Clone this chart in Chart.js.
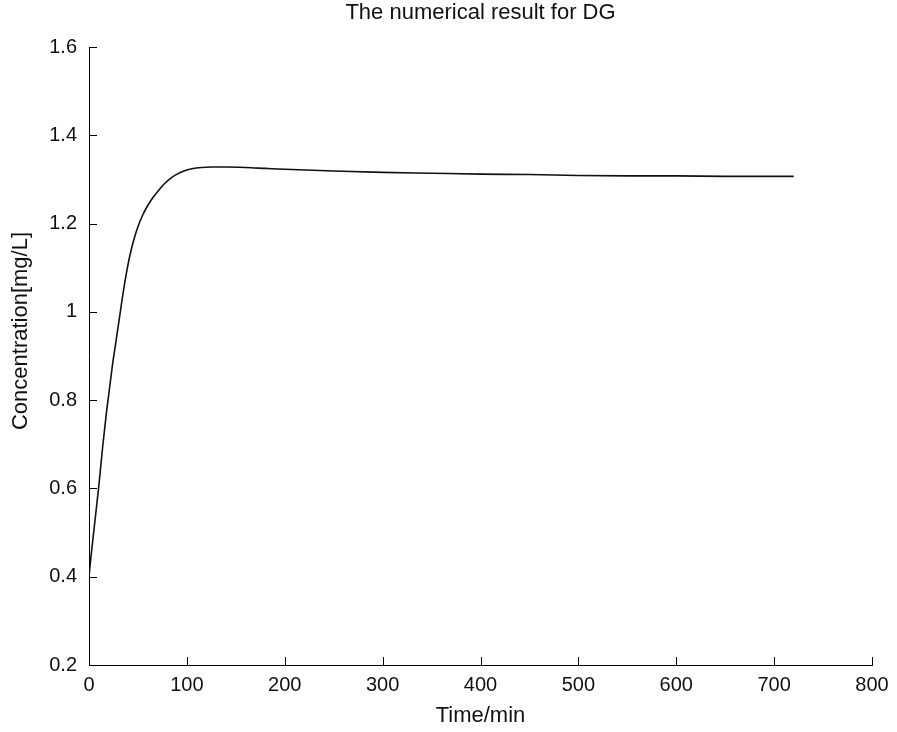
<!DOCTYPE html>
<html>
<head>
<meta charset="utf-8">
<script src="https://cdn.jsdelivr.net/npm/chart.js@4"></script>
<style>
  html, body { margin: 0; padding: 0; background: #fff; }
  #wrap { width: 897px; height: 732px; }
</style>
</head>
<body>
<div id="wrap"><canvas id="dg"></canvas></div>
<script>
// ── DATA ──
const timeMin = [0, 2, 4, 6, 8, 10, 12, 14, 16, 18, 20, 22, 24, 26, 28, 30, 32, 35, 38, 42, 46, 50, 55, 60,
  65, 70, 76, 83, 90, 97, 105, 115, 125, 140, 160, 180, 200, 250, 300, 350, 400, 450, 500, 550, 600, 650, 720];
const concentration = [0.40, 0.445, 0.485, 0.525, 0.565, 0.605, 0.65, 0.695, 0.735, 0.775, 0.81, 0.845, 0.88,
  0.91, 0.94, 0.97, 1.0, 1.045, 1.085, 1.13, 1.165, 1.193, 1.22, 1.241, 1.258, 1.272, 1.288, 1.302, 1.312, 1.319,
  1.324, 1.327, 1.328, 1.328, 1.327, 1.325, 1.323, 1.319, 1.316, 1.314, 1.312, 1.311, 1.309, 1.308, 1.308,
  1.307, 1.307];
const xTicks = [0, 100, 200, 300, 400, 500, 600, 700, 800];
const yTicks = [0.2, 0.4, 0.6, 0.8, 1, 1.2, 1.4, 1.6];

const titleText = 'The numerical result for DG';
const xLabel = 'Time/min';
const yLabel = 'Concentration[mg/L]';

const FONT = '"Liberation Sans", Arial, Helvetica, sans-serif';

// ── MATLAB-style extras: inward ticks + title/labels ──
const matlabAxes = {
  id: 'matlabAxes',
  afterDraw(chart) {
    const g = chart.ctx;
    const a = chart.chartArea;
    const xs = chart.scales.x, ys = chart.scales.y;
    g.save();
    g.strokeStyle = '#000';
    g.lineWidth = 1;
    g.beginPath();
    xTicks.forEach(v => {
      const px = Math.round(xs.getPixelForValue(v)) + 0.5;
      g.moveTo(px, a.bottom); g.lineTo(px, a.bottom - 8);
    });
    yTicks.forEach(v => {
      const py = Math.round(ys.getPixelForValue(v)) + 0.5;
      g.moveTo(a.left, py); g.lineTo(a.left + 8, py);
    });
    g.stroke();

    g.fillStyle = '#111';
    g.textAlign = 'center';
    g.textBaseline = 'middle';
    g.font = '22px ' + FONT;
    g.fillText(titleText, (a.left + a.right) / 2, 13);
    g.fillText(xLabel, (a.left + a.right) / 2, 716);
    g.translate(21, 331);
    g.rotate(-Math.PI / 2);
    g.fillText(yLabel, 0, 0);
    g.restore();
  }
};

new Chart(document.getElementById('dg'), {
  type: 'line',
  data: {
    datasets: [{
      data: timeMin.map((t, i) => ({ x: t, y: concentration[i] })),
      borderColor: '#111',
      borderWidth: 1.6,
      pointRadius: 0,
      fill: false,
      cubicInterpolationMode: 'monotone'
    }]
  },
  options: {
    responsive: true,
    maintainAspectRatio: false,
    animation: false,
    layout: { padding: { top: 47, right: 25, left: 0, bottom: 0 } },
    scales: {
      x: {
        type: 'linear',
        min: 0, max: 800,
        afterBuildTicks: s => { s.ticks = xTicks.map(v => ({ value: v })); },
        afterFit: s => { s.height = 67; },
        grid: { drawOnChartArea: false, drawTicks: false },
        border: { display: true, color: '#000', width: 1 },
        ticks: { color: '#111', padding: 8, maxRotation: 0, font: { family: FONT, size: 20 },
                 callback: v => String(v) }
      },
      y: {
        min: 0.2, max: 1.6,
        afterBuildTicks: s => { s.ticks = yTicks.map(v => ({ value: v })); },
        afterFit: s => { s.width = 89; },
        grid: { drawOnChartArea: false, drawTicks: false },
        border: { display: true, color: '#000', width: 1 },
        ticks: { color: '#111', padding: 12, font: { family: FONT, size: 20 },
                 callback: v => String(v) }
      }
    },
    plugins: {
      legend: { display: false },
      tooltip: { enabled: false }
    }
  },
  plugins: [matlabAxes]
});
</script>
</body>
</html>
